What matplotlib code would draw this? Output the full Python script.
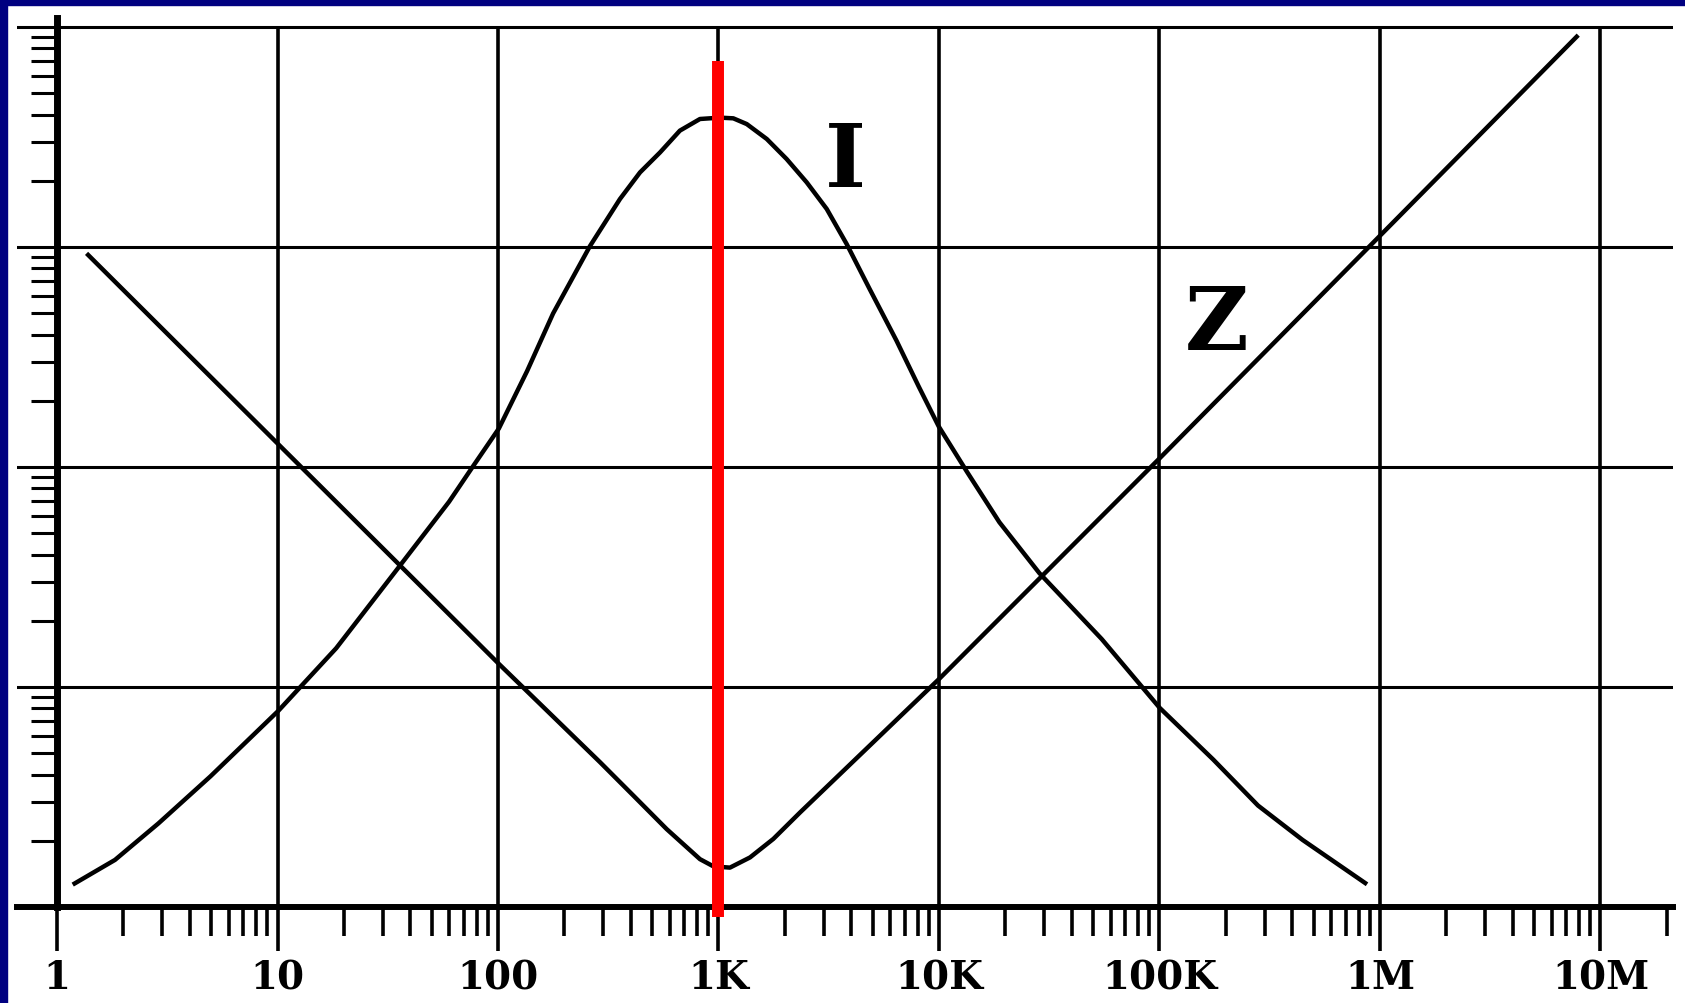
import matplotlib
matplotlib.use('Agg')
import matplotlib.pyplot as plt
from matplotlib.ticker import FixedLocator, NullFormatter
from matplotlib.patches import Rectangle

# Curva da corrente I (frequência em Hz, valor relativo)
freq_i = [1.202, 1.832, 2.884, 4.966, 10.07, 18.45, 34.75, 59.98, 76.91, 100.9, 135.5,
          177.8, 261.2, 357.3, 440.6, 543.3, 668.3, 824.1, 1016, 1167, 1343, 1656,
          2037, 2512, 3097, 3811, 4842, 6412, 8091, 9977, 13400, 18790, 28510,
          54700, 100200, 175400, 279900, 445700, 857000]
corrente = [1.279, 1.637, 2.399, 3.926, 7.780, 15.00, 34.12, 69.50, 100.5, 149.6, 272.9,
            498.9, 1009, 1652, 2183, 2692, 3381, 3819, 3873, 3846, 3622, 3097,
            2512, 1968, 1489, 1033, 645.7, 375.8, 232.3, 152.8, 95.06, 56.10, 32.96,
            16.52, 8.04, 4.677, 2.891, 2.018, 1.285]

# Curva da impedância Z
freq_z = [1.384, 10.07, 100.9, 290.4, 411.1, 582.1, 824.1, 948.4, 1127, 1390, 1774,
          2344, 9977, 100200, 986000, 7.80e6]
impedancia = [920.4, 127.1, 12.74, 4.55, 3.21, 2.26, 1.65, 1.53, 1.51, 1.68, 2.04,
              2.69, 10.84, 109.6, 1109, 9036]

# Frequência de ressonância (linha vermelha)
ressonancia = 1000
linha_vermelha = [0.9, 7000]

ticks_x = [1, 10, 100, 1e3, 1e4, 1e5, 1e6, 1e7]
rotulos_x = ['1', '10', '100', '1K', '10K', '100K', '1M', '10M']
ticks_y = [1, 10, 100, 1e3, 1e4]

plt.rcParams['font.family'] = 'DejaVu Serif'
plt.rcParams['font.weight'] = 'bold'

fig = plt.figure(figsize=(16.85, 10.04), dpi=100)
ax = fig.add_axes([17 / 1685, 96 / 1004, 1656 / 1685, 889 / 1004])
ax.set_xscale('log')
ax.set_yscale('log')
ax.set_xlim(0.6585, 2.133e7)
ax.set_ylim(1, 10990)

# eixos
ax.spines['top'].set_visible(False)
ax.spines['right'].set_visible(False)
ax.spines['left'].set_position(('data', 1))
ax.spines['left'].set_linewidth(5)
ax.spines['bottom'].set_linewidth(4.3)

ax.set_xticks(ticks_x, rotulos_x)
ax.xaxis.set_minor_locator(FixedLocator(
    [m * 10 ** d for d in range(8) for m in range(2, 10) if m * 10 ** d < 2.1e7]))
ax.xaxis.set_minor_formatter(NullFormatter())
ax.set_yticks(ticks_y)
ax.yaxis.set_minor_locator(FixedLocator(
    [m * 10 ** d for d in range(4) for m in range(2, 10)]))
ax.yaxis.set_minor_formatter(NullFormatter())

ax.tick_params(axis='x', which='major', direction='out', length=32, width=2.6,
               pad=5, labelsize=28)
ax.tick_params(axis='x', which='minor', direction='out', length=21, width=2.6)
ax.tick_params(axis='y', which='major', length=0, labelleft=False)
ax.tick_params(axis='y', which='minor', direction='out', length=19, width=2.2,
               labelleft=False)

# grade
ax.yaxis.grid(True, which='major', color='k', lw=2.2)
ax.vlines(ticks_x[1:], 1, 1e4, colors='k', lw=2.6, zorder=1)

# curvas
ax.plot(freq_i, corrente, color='k', lw=3.2, zorder=3)
ax.plot(freq_z, impedancia, color='k', lw=3.2, zorder=3)
ax.plot([ressonancia, ressonancia], linha_vermelha, color='red', lw=8.6,
        solid_capstyle='butt', clip_on=False, zorder=5)

ax.text(3750, 1893, 'I', fontsize=63, ha='center', va='baseline')
ax.text(182300, 344, 'Z', fontsize=63, ha='center', va='baseline')

# moldura azul
fig.patches.append(Rectangle((0, 0), 7 / 1685, 1, transform=fig.transFigure,
                             color='#000080', zorder=10))
fig.patches.append(Rectangle((0, 1 - 6 / 1004), 1, 6 / 1004, transform=fig.transFigure,
                             color='#000080', zorder=10))

fig.savefig('out.png', dpi=100)
